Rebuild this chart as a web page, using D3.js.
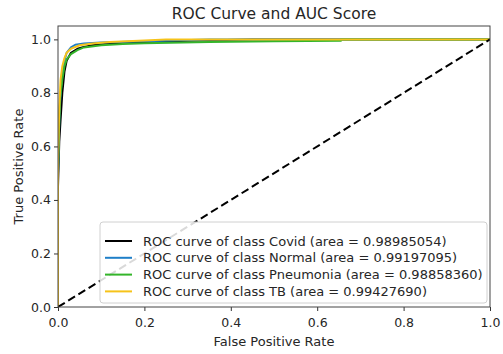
<!DOCTYPE html>
<html>
<head>
<meta charset="utf-8">
<script src="https://cdn.jsdelivr.net/npm/d3@7"></script>
<style>
  body { margin: 0; background: #fff; }
  text { font-family: "DejaVu Sans", sans-serif; fill: #262626; }
</style>
</head>
<body>
<svg id="chart" width="503" height="354"></svg>
<script>
// values
const classNames = ["Covid", "Normal", "Pneumonia", "TB"];
const aucScores = ["0.98985054", "0.99197095", "0.98858360", "0.99427690"];
const lineColors = ["#000000", "#1f7fc8", "#34b52a", "#f6c31a"];

const covidFpr = [0, 0, 0.003, 0.006, 0.01, 0.015, 0.02, 0.03, 0.045, 0.06, 0.08, 0.12, 0.2, 0.3, 0.45, 1];
const covidTpr = [0, 0.45, 0.62, 0.70, 0.80, 0.88, 0.92, 0.95, 0.965, 0.972, 0.978, 0.985, 0.99, 0.995, 1, 1];
const normalFpr = [0, 0, 0.003, 0.006, 0.01, 0.015, 0.02, 0.03, 0.04, 0.06, 0.1, 0.2, 0.35, 1];
const normalTpr = [0, 0.5, 0.7, 0.8, 0.87, 0.92, 0.95, 0.97, 0.98, 0.985, 0.988, 0.993, 1, 1];
const pneuFpr = [0, 0, 0.002, 0.005, 0.01, 0.015, 0.02, 0.03, 0.045, 0.06, 0.1, 0.15, 0.2, 0.35, 0.5, 0.655, 0.655, 1];
const pneuTpr = [0, 0.5, 0.65, 0.78, 0.85, 0.9, 0.925, 0.945, 0.96, 0.97, 0.978, 0.983, 0.986, 0.99, 0.993, 0.995, 1, 1];
const tbFpr = [0, 0, 0.003, 0.006, 0.01, 0.015, 0.02, 0.03, 0.05, 0.08, 0.12, 0.2, 0.25, 1];
const tbTpr = [0, 0.55, 0.75, 0.85, 0.9, 0.93, 0.95, 0.965, 0.978, 0.985, 0.99, 0.996, 1, 1];

const xTicks = [0, 0.2, 0.4, 0.6, 0.8, 1.0];
const yTicks = [0, 0.2, 0.4, 0.6, 0.8, 1.0];

const curves = [
  d3.zip(covidFpr, covidTpr),
  d3.zip(normalFpr, normalTpr),
  d3.zip(pneuFpr, pneuTpr),
  d3.zip(tbFpr, tbTpr)
];

const svg = d3.select("#chart");
const m = { left: 58, right: 490, top: 26, bottom: 307 };

const x = d3.scaleLinear().domain([0, 1]).range([m.left, m.right]);
const y = d3.scaleLinear().domain([0, 1.05]).range([m.bottom, m.top]);

// clip to axes area
svg.append("clipPath").attr("id", "plotclip")
  .append("rect").attr("x", m.left).attr("y", m.top)
  .attr("width", m.right - m.left).attr("height", m.bottom - m.top);

const line = d3.line().x(d => x(d[0])).y(d => y(d[1]));
const plot = svg.append("g").attr("clip-path", "url(#plotclip)");

curves.forEach((pts, i) => {
  plot.append("path")
    .attr("d", line(pts))
    .attr("fill", "none")
    .attr("stroke", lineColors[i])
    .attr("stroke-width", 2)
    .attr("stroke-linejoin", "round");
});

// chance line
plot.append("path")
  .attr("d", line([[0, 0], [1, 1]]))
  .attr("fill", "none")
  .attr("stroke", "#000")
  .attr("stroke-width", 2)
  .attr("stroke-dasharray", "8,4");

// axes
const xAxis = svg.append("g").attr("transform", `translate(0,${m.bottom})`)
  .call(d3.axisBottom(x).tickValues(xTicks).tickFormat(d3.format(".1f")).tickSizeOuter(0).tickSize(4));
const yAxis = svg.append("g").attr("transform", `translate(${m.left},0)`)
  .call(d3.axisLeft(y).tickValues(yTicks).tickFormat(d3.format(".1f")).tickSizeOuter(0).tickSize(4));
[xAxis, yAxis].forEach(a => {
  a.select(".domain").remove();
  a.selectAll(".tick line").attr("stroke", "#333");
  a.selectAll(".tick text").attr("font-size", 12.5).attr("fill", "#262626")
    .attr("font-family", "DejaVu Sans, sans-serif");
});
xAxis.selectAll(".tick text").attr("dy", "1.02em");

// frame
svg.append("rect")
  .attr("x", m.left).attr("y", m.top)
  .attr("width", m.right - m.left).attr("height", m.bottom - m.top)
  .attr("fill", "none").attr("stroke", "#444").attr("stroke-width", 1);

// labels
svg.append("text").attr("x", (m.left + m.right) / 2).attr("y", 19)
  .attr("text-anchor", "middle").attr("font-size", 15.5).text("ROC Curve and AUC Score");
svg.append("text").attr("x", (m.left + m.right) / 2).attr("y", 346)
  .attr("text-anchor", "middle").attr("font-size", 13).text("False Positive Rate");
svg.append("text")
  .attr("transform", `translate(23,${(m.top + m.bottom) / 2}) rotate(-90)`)
  .attr("text-anchor", "middle").attr("font-size", 13).text("True Positive Rate");

// legend
const leg = svg.append("g");
leg.append("rect")
  .attr("x", 100).attr("y", 222).attr("width", 387).attr("height", 81)
  .attr("rx", 3).attr("fill", "#fff").attr("fill-opacity", 0.85)
  .attr("stroke", "#d0d0d0");
classNames.forEach((c, i) => {
  const yy = 241 + i * 16.8;
  leg.append("line").attr("x1", 105).attr("x2", 132).attr("y1", yy).attr("y2", yy)
    .attr("stroke", lineColors[i]).attr("stroke-width", 2);
  leg.append("text").attr("x", 143).attr("y", yy).attr("dy", "0.35em")
    .attr("font-size", 13)
    .text(`ROC curve of class ${c} (area = ${aucScores[i]})`);
});
</script>
</body>
</html>
